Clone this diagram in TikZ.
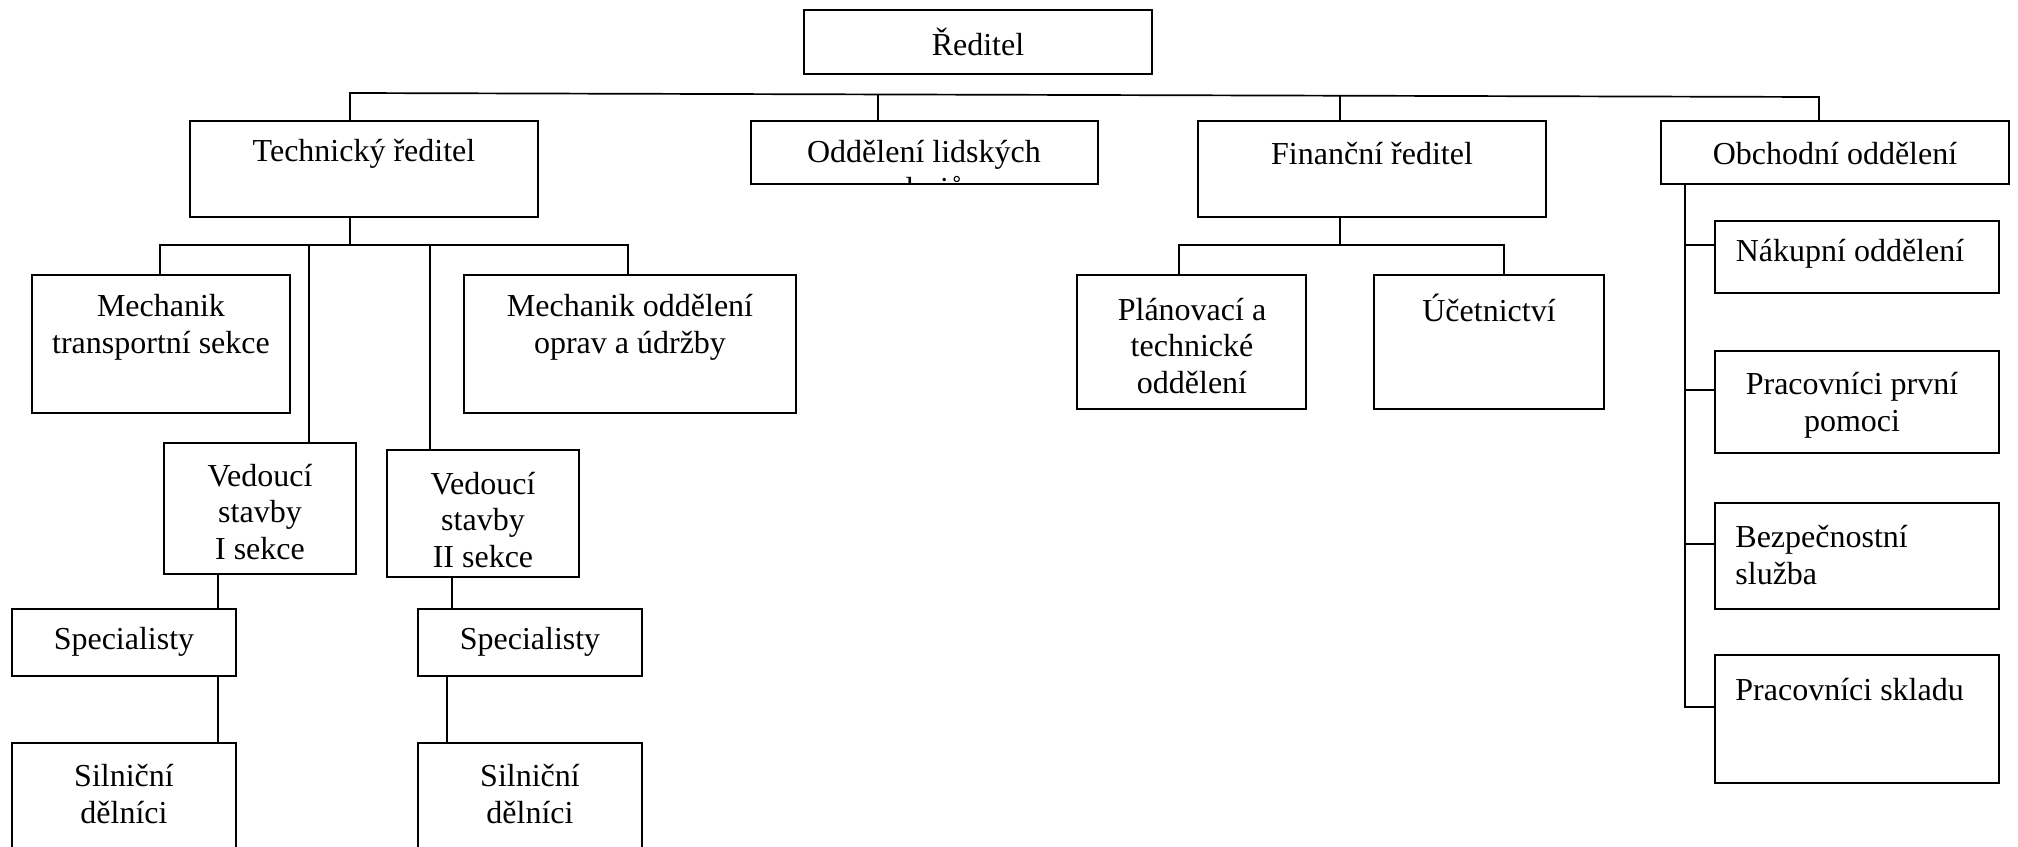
\documentclass[tikz,border=0pt]{standalone}
\usepackage{fontspec}
\setmainfont{Liberation Serif}
\begin{document}
\begin{tikzpicture}[x=0.5pt,y=-0.5pt,
  box/.style={draw=black, line width=1pt, inner sep=0pt, outer sep=0pt, fill=white},
  conn/.style={draw=black, line width=0.85pt},
  txt/.style={inner sep=0pt, align=center, font=\fontsize{16}{18.35}\selectfont},
  ltxt/.style={inner sep=0pt, align=left, anchor=west, font=\fontsize{16}{18.35}\selectfont}]
\useasboundingbox (0,0) rectangle (2018,846);
\newcommand{\bx}[5]{\node[box, minimum width={(#4-#2)*0.5pt}, minimum height={(#5-#3)*0.5pt}] (#1) at ({(#2+#4)/2},{(#3+#5)/2}) {};}
% boxes
\bx{red}{804}{10}{1152}{74}
\bx{tech}{190}{121}{538}{217}
\bx{hr}{751}{121}{1098}{184}
\bx{fin}{1198}{121}{1546}{217}
\bx{obch}{1661}{121}{2009}{184}
\bx{mts}{32}{275}{290}{413}
\bx{moo}{464}{275}{796}{413}
\bx{ved1}{164}{443}{356}{574}
\bx{ved2}{387}{450}{579}{577}
\bx{spec1}{12}{609}{236}{676}
\bx{spec2}{418}{609}{642}{676}
\bx{sil1}{12}{743}{236}{900}
\bx{sil2}{418}{743}{642}{900}
\bx{plan}{1077}{275}{1306}{409}
\bx{uc}{1374}{275}{1604}{409}
\bx{nak}{1715}{221}{1999}{293}
\bx{ppp}{1715}{351}{1999}{453}
\bx{bez}{1715}{503}{1999}{609}
\bx{skl}{1715}{655}{1999}{783}
% texts
\node[txt] (tred) at (978,42) {Ředitel};
\node[txt] (ttech) at (364,154) {Technický ředitel};
\begin{scope}
\clip ([xshift=0.5pt,yshift=0.5pt]hr.south west) rectangle ([xshift=-0.5pt,yshift=-0.5pt]hr.north east);
\node[txt] (thr) at (924,173) {Oddělení lidských\\zdrojů};
\end{scope}
\draw[line width=1pt] (hr.south west) rectangle (hr.north east);
\node[txt] (tfin) at (1372,154) {Finanční ředitel};
\node[txt] (tobch) at (1835,154) {Obchodní oddělení};
\node[txt] (tmts) at (161,327) {Mechanik\\transportní sekce};
\node[txt] (tmoo) at (630,327) {Mechanik oddělení\\oprav a údržby};
\node[txt] (tved1) at (260,512) {Vedoucí\\stavby\\I sekce};
\node[txt] (tved2) at (483,520) {Vedoucí\\stavby\\II sekce};
\node[txt] (tspec1) at (124,642) {Specialisty};
\node[txt] (tspec2) at (530,642) {Specialisty};
\node[txt] (tsil1) at (124,794) {Silniční\\dělníci};
\node[txt] (tsil2) at (530,794) {Silniční\\dělníci};
\node[txt] (tplan) at (1192,346) {Plánovací a\\technické\\oddělení};
\node[txt] (tuc) at (1489,308) {Účetnictví};
\node[txt] (tnak) at (1850,254) {Nákupní oddělení};
\node[txt] (tppp) at (1852,405) {Pracovníci první\\pomoci};
\node[ltxt] (tbez) at (1735,555) {Bezpečnostní\\služba};
\node[ltxt] (tskl) at (1735,690) {Pracovníci skladu};
% top bus
\coordinate (tb1) at (350,93);
\coordinate (tb2) at (878,94.4);
\coordinate (tb3) at (1340,95.7);
\coordinate (tb4) at (1819,97);
\draw[conn] (tb1|-tech.north) -- (tb1) -- (tb4) -- (tb4|-obch.north);
\draw[conn] (tb2) -- (tb2|-hr.north);
\draw[conn] (tb3) -- (tb3|-fin.north);
% technical branch
\coordinate (t0) at (350,245);
\coordinate (t1) at (160,245);
\coordinate (t2) at (309,245);
\coordinate (t3) at (430,245);
\coordinate (t4) at (628,245);
\draw[conn] (t0|-tech.south) -- (t0);
\draw[conn] (t1|-mts.north) -- (t1) -- (t4) -- (t4|-moo.north);
\draw[conn] (t2) -- (t2|-ved1.north);
\draw[conn] (t3) -- (t3|-ved2.north);
\coordinate (c1) at (218,600);
\draw[conn] (c1|-ved1.south) -- (c1|-spec1.north);
\draw[conn] (c1|-spec1.south) -- (c1|-sil1.north);
\coordinate (c2) at (452,600);
\coordinate (c3) at (447,700);
\draw[conn] (c2|-ved2.south) -- (c2|-spec2.north);
\draw[conn] (c3|-spec2.south) -- (c3|-sil2.north);
% finance branch
\coordinate (f0) at (1340,245);
\coordinate (f1) at (1179,245);
\coordinate (f2) at (1504,245);
\draw[conn] (f0|-fin.south) -- (f0);
\draw[conn] (f1|-plan.north) -- (f1) -- (f2) -- (f2|-uc.north);
% trade branch
\coordinate (o0) at (1685,707);
\draw[conn] (o0|-obch.south) -- (o0) -- (o0-|skl.west);
\coordinate (o1) at (1685,245);
\coordinate (o2) at (1685,390);
\coordinate (o3) at (1685,544);
\draw[conn] (o1) -- (o1-|nak.west);
\draw[conn] (o2) -- (o2-|ppp.west);
\draw[conn] (o3) -- (o3-|bez.west);
\end{tikzpicture}
\end{document}
